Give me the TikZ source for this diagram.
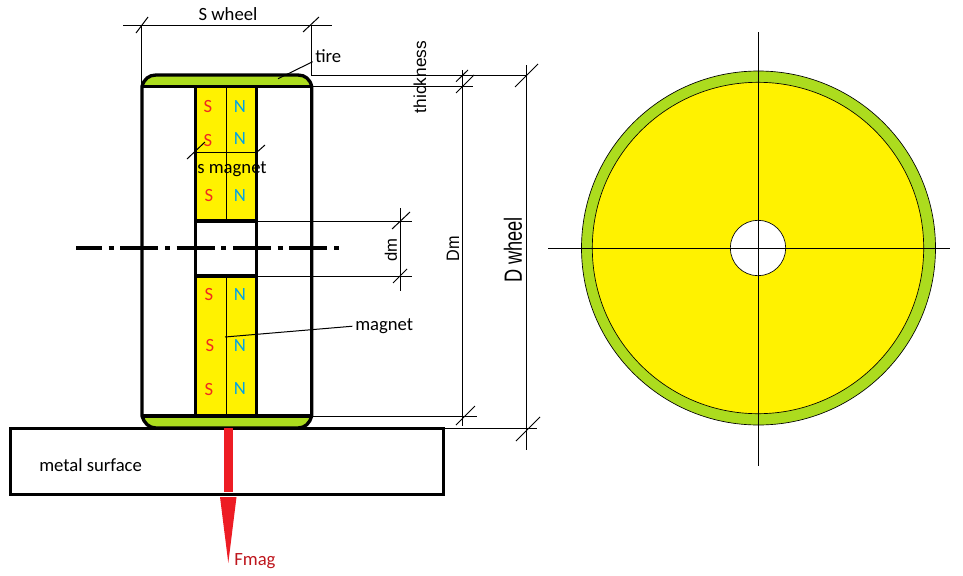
\documentclass[tikz,border=0pt]{standalone}
\usepackage{fontspec}
\setmainfont{Carlito}
\newfontfamily\rotfont{Liberation Sans}
\definecolor{lime}{HTML}{ACDC1E}
\definecolor{magy}{HTML}{FFF200}
\definecolor{fred}{HTML}{ED1C24}
\definecolor{nblue}{HTML}{00A2E8}
\tikzset{
  thickl/.style={draw=black,line width=2.5pt},
  thinl/.style={draw=black,line width=0.75pt},
  polelabel/.style={font=\fontsize{14}{14}\selectfont,inner sep=0pt},
  spole/.style={polelabel,text=fred!85!orange},
  npole/.style={polelabel,text=nblue},
  lbl/.style={font=\fontsize{14}{15}\selectfont,inner sep=0pt,text=black},
  rotlbl/.style={inner sep=0pt,rotate=90,text=black},
}
\begin{document}
\begin{tikzpicture}[x=0.75pt,y=-0.75pt]
\useasboundingbox (0,0) rectangle (963,575);
% ---- right view
\fill[lime] (758.5,248) circle (177);
\draw[line width=0.5pt] (758.5,248) circle (177);
\fill[magy] (758,248) circle (165.7);
\draw[line width=0.5pt] (758,248) circle (165.7);
\fill[white] (758,248) circle (27.7);
\draw[line width=0.5pt] (758,248) circle (27.7);
\coordinate (hl) at (548,248); \coordinate (hr) at (950,248);
\coordinate (vt) at (758,32); \coordinate (vb) at (758,466);
\draw[thinl] (hl) -- (hr);
\draw[thinl] (vt) -- (vb);
% ---- fills
\fill[lime] (142,86.5) .. controls (144,79) and (149,75) .. (156,75) -- (298,75) .. controls (305,75) and (310,79) .. (311.7,86.5) -- cycle;
\fill[lime] (142,416) .. controls (144,423) and (149,428) .. (156,428) -- (298,428) .. controls (305,428) and (310,423) .. (311.7,416) -- cycle;
\fill[magy] (195.5,86.5) rectangle (256.5,221);
\fill[magy] (195.5,276) rectangle (256.5,416);
% ---- wheel outline
\draw[thickl,line join=round] (142,416) -- (142,86.5) .. controls (144,79) and (149,75) .. (156,75) -- (298,75) .. controls (305,75) and (310,79) .. (311.7,86.5) -- (311.7,416) .. controls (310,423) and (305,428) .. (298,428) -- (156,428) .. controls (149,428) and (144,423) .. (142,416) -- cycle;
\draw[thickl] (142,86.5) -- (311.7,86.5);
\draw[thickl] (142,416) -- (311.7,416);
\draw[thickl] (195.5,86.5) -- (195.5,416);
\draw[thickl] (256.5,86.5) -- (256.5,416);
\draw[thickl] (195.5,221) -- (256.5,221);
\draw[thickl] (195.5,276) -- (256.5,276);
\draw[thinl] (226.7,86.5) -- (226.7,221);
\draw[thinl] (226.7,276) -- (226.7,416);
\draw[thinl] (195.5,152.7) -- (256.5,152.7);
% ---- axis
\draw[draw=black,line width=2.3pt,dash pattern=on 28.5pt off 5pt on 3.75pt off 5pt,dash phase=9pt] (76,248) -- (342,248);
% ---- metal surface
\node[draw=black,line width=2.4pt,outer sep=0pt,minimum width=324.75pt,minimum height=49.5pt,inner sep=0pt,anchor=north west] (metal) at (10.5,428.5) {};
\node[lbl,anchor=west] (metaltxt) at (39,465) {metal surface};
% ---- force arrow
\fill[fred] (223.5,428) rectangle (233,491.5);
\fill[fred] (220,497) -- (236.5,497) -- (228.3,563) -- cycle;
\node[font=\fontsize{14}{15}\selectfont,inner sep=0pt,anchor=west,text=fred!80!black] (fmag) at (234,561) {Fmag};
% ---- S wheel dim
\coordinate (sl) at (123,25); \coordinate (sr) at (332,25);
\coordinate (slv) at (141.7,25); \coordinate (srv) at (311.7,25);
\coordinate (slb) at (141.7,86); \coordinate (srb) at (311.7,75);
\draw[thinl] (sl) -- (sr);
\draw[thinl] (slv) -- (slb);
\draw[thinl] (srv) -- (srb);
\draw[thinl] (136,33) -- (148,17);
\draw[thinl] (303,32) -- (319,17);
\node[lbl] (swheel) at (228,14) {S wheel};
% ---- tire
\node[lbl,anchor=west] (tire) at (315,56) {tire};
\coordinate (tirept) at (278,78.7);
\draw[thinl] (tirept) -- (312.7,61.7);
% ---- right dims
\coordinate (e1) at (311,75); \coordinate (e1b) at (527,75);
\coordinate (e2) at (311,86.5); \coordinate (e2b) at (473,86.5);
\coordinate (e3) at (311,416); \coordinate (e3b) at (477,416);
\coordinate (e4) at (443,428); \coordinate (e4b) at (537,428);
\draw[thinl] (e1) -- (e1b);
\draw[thinl] (e2) -- (e2b);
\draw[thinl] (e3) -- (e3b);
\draw[thinl] (e4) -- (e4b);
\draw[thinl] (462.7,70) -- (462.7,426);
\draw[thinl] (526.3,65) -- (526.3,450);
\draw[thinl] (456,81.7) -- (468,70);
\draw[thinl] (456,93) -- (474,75);
\draw[thinl] (515,87) -- (538,64);
\draw[thinl] (456,425) -- (475,406);
\draw[thinl] (516,441) -- (540,417);
\node[rotlbl,font=\rotfont\fontsize{13}{13}\selectfont] (thick) at (420,77) {thickness};
\node[rotlbl,font=\rotfont\fontsize{13.5}{13.5}\selectfont,xscale=.9] (Dm) at (453,249) {Dm};
\node[rotlbl,font=\rotfont\fontsize{18.7}{18.7}\selectfont,xscale=.73] (Dw) at (513,250) {D wheel};
% ---- dm
\coordinate (d1) at (256,221); \coordinate (d1b) at (412,221);
\coordinate (d2) at (256,276); \coordinate (d2b) at (412,276);
\draw[thinl] (d1) -- (d1b);
\draw[thinl] (d2) -- (d2b);
\draw[thinl] (400.7,208) -- (400.7,291);
\draw[thinl] (392,229) -- (410,212);
\draw[thinl] (393,283) -- (407,269);
\node[rotlbl,font=\rotfont\fontsize{12.5}{12.5}\selectfont] (dm) at (391,250) {dm};
% ---- s magnet
\draw[thinl] (187,159) -- (205,142);
\draw[thinl] (256,153) -- (265,145);
\node[lbl] (smag) at (232,169) {s magnet};
% ---- magnet
\node[lbl,anchor=west] (magnet) at (355,326) {magnet};
\coordinate (magpt) at (225,337);
\draw[thinl,shorten >=2pt] (magpt) -- (magnet.west);
% ---- poles
\foreach \n/\x/\y in {s1/208/107,s2/208/141,s3/209/196,s4/209/295,s5/210/345,s6/209/389}
  \node[spole] (\n) at (\x,\y) {S};
\foreach \n/\x/\y in {n1/240/107,n2/240/139,n3/240/196,n4/240/295,n5/240/346,n6/240/389}
  \node[npole] (\n) at (\x,\y) {N};
\end{tikzpicture}
\end{document}
